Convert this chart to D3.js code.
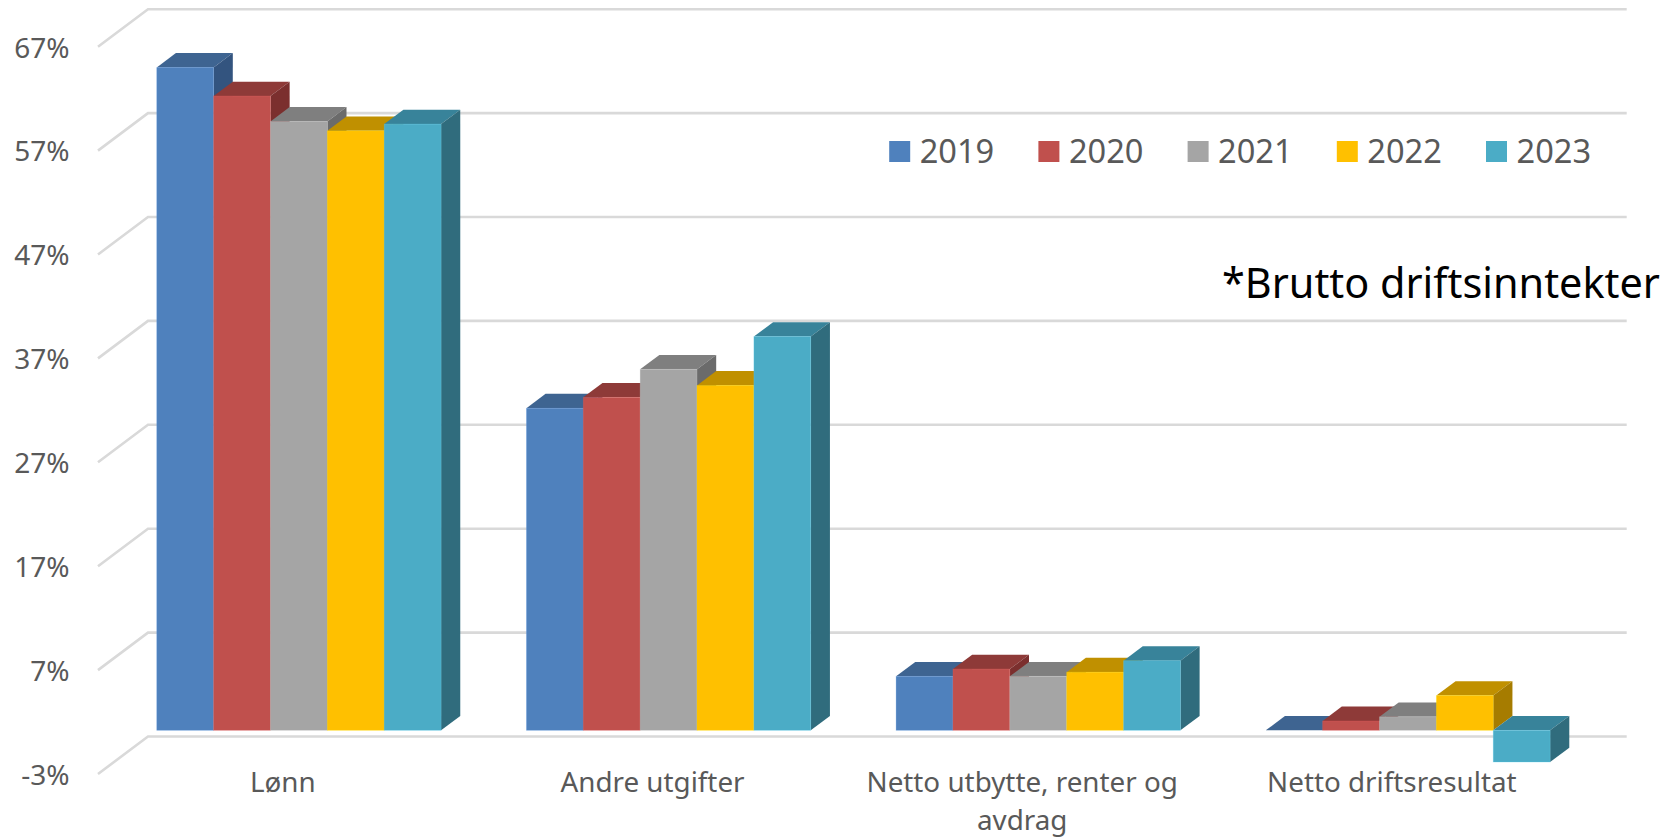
<!DOCTYPE html>
<html lang="en">
<head>
<meta charset="UTF-8">
<title>Kostnader</title>
<style>
  html, body { margin: 0; padding: 0; background: #fff; }
  svg { display: block; }
  text { font-family: "Noto Sans", "Open Sans", sans-serif; }
</style>
</head>
<body>
<script src="https://d3js.org/d3.v7.min.js"></script>
<script>
const categories = ['Lønn', 'Andre utgifter', 'Netto utbytte, renter og avdrag', 'Netto driftsresultat'];
const years = ['2019', '2020', '2021', '2022', '2023'];
const tickLabels = [-3, 7, 17, 27, 37, 47, 57, 67];

const v2019 = [63.8, 31.0, 5.2, 0.0];
const v2020 = [61.05, 32.05, 5.9, 0.9];
const v2021 = [58.6, 34.75, 5.2, 1.3];
const v2022 = [57.7, 33.2, 5.6, 3.35];
const v2023 = [58.35, 37.9, 6.7, -3.05];
const values = [v2019, v2020, v2021, v2022, v2023];

const frontColors = ['#4f81bd', '#c0504d', '#a5a5a5', '#ffc000', '#4bacc6'];
const topColors = ['#3e6491', '#8e3a38', '#7f7f7f', '#c09000', '#38839a'];
const sideColors = ['#33547f', '#7b2f2e', '#6b6b6b', '#a67c00', '#306c7d'];

const width = 1670, height = 837;

const svg = d3.select('body').append('svg')
    .attr('width', width)
    .attr('height', height);

// front plane of the 3d box, the back wall is shifted by depthX/depthY
const left = 98, right = 1576.7;
const depthX = 50, depthY = -37.5;
// bars stand between these two fractions of the box depth
const barFront = 1 / 3, barBack = 0.717;

const yScale = d3.scaleLinear().domain([-3, 67]).range([774, 46.7]);
const xScale = d3.scaleBand().domain(categories).range([left - 0.6, right - 0.6])
    .paddingInner(0.2308).paddingOuter(0.1154);
const xYear = d3.scaleBand().domain(years).range([0, xScale.bandwidth()]);

// gridlines: diagonal on the side wall, then along the back wall
const grid = svg.append('g');
grid.selectAll('path')
    .data(tickLabels)
    .enter().append('path')
    .attr('fill', 'none')
    .attr('stroke', '#d9d9d9')
    .attr('stroke-width', 2.6)
    .attr('d', function (d) {
        const y = yScale(d);
        return 'M' + left + ',' + y +
            'L' + (left + depthX) + ',' + (y + depthY) +
            'L' + (right + depthX) + ',' + (y + depthY);
    });

// y axis
const yAxis = d3.axisLeft(yScale)
    .tickValues(tickLabels)
    .tickSize(0)
    .tickPadding(28.5)
    .tickFormat(d => d + '%');

svg.append('g')
    .attr('transform', 'translate(' + left + ',0)')
    .call(yAxis)
    .call(g => g.select('.domain').remove())
    .call(g => g.selectAll('text')
        .attr('font-size', 28)
        .attr('dy', '0.37em')
        .attr('fill', '#595959')
        .style('font-family', '"Noto Sans", sans-serif'));

// x axis, long label goes on two lines
const xAxis = d3.axisBottom(xScale).tickSize(0).tickPadding(0);

const xG = svg.append('g')
    .attr('transform', 'translate(0.6,' + yScale(-3) + ')')
    .call(xAxis)
    .call(g => g.select('.domain').remove());

xG.selectAll('text')
    .attr('font-size', 27.8)
    .attr('fill', '#595959')
    .style('font-family', '"Noto Sans", sans-serif')
    .attr('dy', null)
    .each(function (d) {
        const el = d3.select(this);
        const lines = d === categories[2] ? ['Netto utbytte, renter og', 'avdrag'] : [d];
        el.text(null);
        lines.forEach((line, i) => {
            el.append('tspan').attr('x', 0).attr('y', 18 + i * 38).text(line);
        });
    });

// bars, left to right so the later bar hides the side of the one before
const baseY = yScale(0) + depthY * barFront;
const bx = depthX * barFront, dx = depthX * (barBack - barFront), dy = depthY * (barBack - barFront);

const bars = [];
categories.forEach((c, ci) => {
    years.forEach((yr, yi) => {
        bars.push({ cat: c, year: yr, idx: yi, value: values[yi][ci] });
    });
});

svg.append('g').selectAll('g')
    .data(bars)
    .enter().append('g')
    .each(function (d) {
        const g = d3.select(this);
        const x0 = xScale(d.cat) + xYear(d.year) + bx;
        const x1 = x0 + xYear.bandwidth();
        const yv = yScale(d.value) + depthY * barFront;
        const yt = Math.min(yv, baseY), yb = Math.max(yv, baseY);

        // top face
        g.append('path')
            .attr('fill', topColors[d.idx])
            .attr('d', 'M' + x0 + ',' + yt + 'L' + (x0 + dx) + ',' + (yt + dy) +
                'L' + (x1 + dx) + ',' + (yt + dy) + 'L' + x1 + ',' + yt + 'Z');
        // side face
        g.append('path')
            .attr('fill', sideColors[d.idx])
            .attr('d', 'M' + x1 + ',' + yt + 'L' + (x1 + dx) + ',' + (yt + dy) +
                'L' + (x1 + dx) + ',' + (yb + dy) + 'L' + x1 + ',' + yb + 'Z');
        // front face, thin lighter edge
        g.append('rect')
            .attr('x', x0)
            .attr('y', yt)
            .attr('width', x1 - x0)
            .attr('height', yb - yt)
            .attr('fill', frontColors[d.idx])
            .attr('stroke', d3.color(frontColors[d.idx]).brighter(0.6))
            .attr('stroke-opacity', 0.3)
            .attr('stroke-width', 0.8);
    });

// legend
const legendX = d3.scalePoint().domain(years).range([889.2, 1486]);

const legend = svg.append('g').selectAll('g')
    .data(years)
    .enter().append('g')
    .attr('transform', d => 'translate(' + legendX(d) + ',141)');

legend.append('rect')
    .attr('width', 21)
    .attr('height', 21)
    .attr('fill', (d, i) => frontColors[i]);

legend.append('text')
    .attr('x', 30.5)
    .attr('y', 21.5)
    .attr('font-size', 32.6)
    .attr('fill', '#595959')
    .text(d => d);

// note
svg.append('text')
    .attr('x', 1222)
    .attr('y', 298)
    .attr('font-size', 41.4)
    .attr('fill', '#000')
    .text('*Brutto driftsinntekter');
</script>
</body>
</html>
